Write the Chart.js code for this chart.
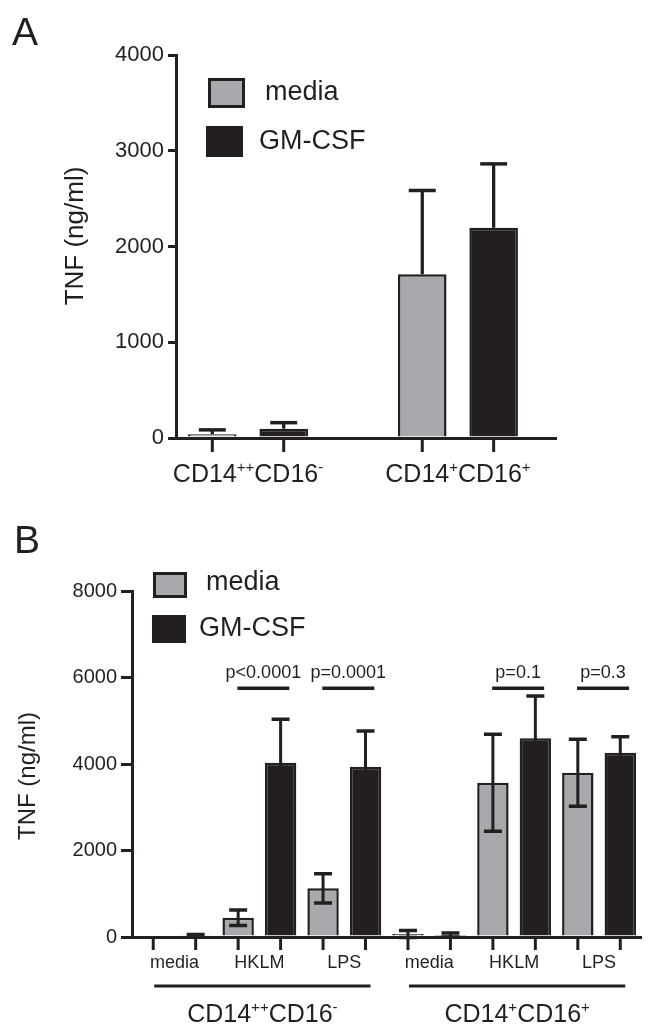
<!DOCTYPE html>
<html>
<head>
<meta charset="utf-8">
<script src="https://cdn.jsdelivr.net/npm/chart.js@4.4.0/dist/chart.umd.min.js"></script>
<style>
  html, body { margin: 0; padding: 0; background: #fff; }
  canvas { display: block; }
</style>
</head>
<body>
<canvas id="chartA" width="664" height="500"></canvas>
<canvas id="chartB" width="664" height="534"></canvas>
<script>
// ---- data ----
const seriesNames = ['media', 'GM-CSF'];
const cellTypes = ['CD14⁺⁺CD16⁻', 'CD14⁺CD16⁺'];

// panel A (mean, SD)
const mediaA = [40, 1710];
const mediaAErr = [45, 875];
const gmcsfA = [97, 2195];
const gmcsfAErr = [63, 668];
const yTicksA = [0, 1000, 2000, 3000, 4000];

// panel B
const stimuli = ['media', 'HKLM', 'LPS', 'media', 'HKLM', 'LPS'];
const stimulusCell = [0, 0, 0, 1, 1, 1];
const mediaB = [0, 446, 1125, 70, 3565, 3796];
const mediaBErr = [0, 180, 340, 80, 1120, 775];
const gmcsfB = [30, 4027, 3935, 45, 4597, 4258];
const gmcsfBErr = [30, 1010, 830, 45, 978, 370];
const pValues = ['', 'p<0.0001', 'p=0.0001', '', 'p=0.1', 'p=0.3'];
const yTicksB = [0, 2000, 4000, 6000, 8000];

const FONT = '"Liberation Sans", Arial, Helvetica, sans-serif';
const GRAY = '#a7a9ac';
const BLACK = '#231f20';
Chart.defaults.font.family = FONT;
Chart.defaults.color = BLACK;

// text with superscript + and -
function drawRich(ctx, text, cx, cy, size) {
  const sup = { '⁺': '+', '⁻': '-' };
  const runs = [];
  for (const ch of text) {
    const isSup = ch in sup;
    const c = isSup ? sup[ch] : ch;
    const last = runs[runs.length - 1];
    if (last && last.sup === isSup) last.t += c; else runs.push({ t: c, sup: isSup });
  }
  const fN = size + 'px ' + FONT, fS = Math.round(size * 0.6) + 'px ' + FONT;
  let w = 0;
  runs.forEach(r => { ctx.font = r.sup ? fS : fN; r.w = ctx.measureText(r.t).width; w += r.w; });
  let x = cx - w / 2;
  const base = cy + size * 0.36;
  ctx.textAlign = 'left';
  ctx.textBaseline = 'alphabetic';
  runs.forEach(r => {
    ctx.font = r.sup ? fS : fN;
    ctx.fillText(r.t, x, r.sup ? base - size * 0.42 : base);
    x += r.w;
  });
}

const decor = {
  id: 'decor',
  afterDatasetsDraw(chart, args, o) {
    const ctx = chart.ctx;
    const xs = chart.scales.x, ys = chart.scales.y;
    const bottom = chart.chartArea.bottom;
    ctx.save();
    ctx.strokeStyle = BLACK;
    ctx.fillStyle = BLACK;

    // error bars
    chart.data.datasets.forEach((ds, di) => {
      const meta = chart.getDatasetMeta(di);
      meta.data.forEach((bar, i) => {
        const d = ds.data[i];
        const v = typeof d === 'object' ? d.y : d;
        const e = ds.errors[i];
        if (!e) return;
        const top = ys.getPixelForValue(v + e);
        const low = o.bothWays ? ys.getPixelForValue(v - e) : bar.y;
        ctx.lineWidth = o.errWidth;
        ctx.beginPath();
        ctx.moveTo(bar.x, low);
        ctx.lineTo(bar.x, top);
        ctx.stroke();
        ctx.lineWidth = o.capWidth;
        ctx.beginPath();
        ctx.moveTo(bar.x - o.cap / 2, top);
        ctx.lineTo(bar.x + o.cap / 2, top);
        if (o.bothWays) {
          ctx.moveTo(bar.x - o.cap / 2, low);
          ctx.lineTo(bar.x + o.cap / 2, low);
        }
        ctx.stroke();
      });
    });

    // x tick marks under every bar
    ctx.lineWidth = 3;
    chart.data.datasets.forEach((ds, di) => {
      chart.getDatasetMeta(di).data.forEach(bar => {
        ctx.beginPath();
        ctx.moveTo(bar.x, bottom);
        ctx.lineTo(bar.x, bottom + o.tickLen);
        ctx.stroke();
      });
    });

    // cell type labels
    if (o.brackets) {
      const m0 = chart.getDatasetMeta(0).data, m1 = chart.getDatasetMeta(1).data;
      cellTypes.forEach((name, g) => {
        const idx = stimulusCell.map((c, i) => c === g ? i : -1).filter(i => i >= 0);
        const x1 = m0[idx[0]].x + 1;
        const x2 = m1[idx[idx.length - 1]].x + 5;
        ctx.lineWidth = 3;
        ctx.beginPath();
        ctx.moveTo(x1, o.bracketY);
        ctx.lineTo(x2, o.bracketY);
        ctx.stroke();
        drawRich(ctx, name, (x1 + x2) / 2, o.cellLabelY, o.cellLabelSize);
      });
    } else {
      cellTypes.forEach((name, i) => {
        drawRich(ctx, name, xs.getPixelForValue(i), o.cellLabelY, o.cellLabelSize);
      });
    }

    // p values
    if (o.pLevel) {
      const py = ys.getPixelForValue(o.pLevel);
      ctx.font = '18px ' + FONT;
      ctx.textAlign = 'center';
      ctx.textBaseline = 'middle';
      pValues.forEach((p, i) => {
        if (!p) return;
        const cx = xs.getPixelForValue(i) + 4;
        ctx.lineWidth = 3.5;
        ctx.beginPath();
        ctx.moveTo(cx - 26, py);
        ctx.lineTo(cx + 26, py);
        ctx.stroke();
        ctx.fillText(p, cx, py - 15);
      });
    }

    // legend
    const L = o.legend;
    chart.data.datasets.forEach((ds, di) => {
      const b = L.boxes[di];
      ctx.fillStyle = BLACK;
      ctx.fillRect(b[0], b[1], b[2], b[3]);
      if (ds.backgroundColor === GRAY) {
        ctx.fillStyle = GRAY;
        ctx.fillRect(b[0] + 3, b[1] + 3, b[2] - 6, b[3] - 6);
      }
      ctx.fillStyle = BLACK;
      ctx.font = L.size + 'px ' + FONT;
      ctx.textAlign = 'left';
      ctx.textBaseline = 'middle';
      ctx.fillText(ds.label, L.text[di][0], L.text[di][1]);
    });

    // panel letter
    ctx.font = o.letter.size + 'px ' + FONT;
    ctx.textAlign = 'left';
    ctx.textBaseline = 'alphabetic';
    ctx.fillText(o.letter.text, o.letter.x, o.letter.y);

    // y title
    ctx.save();
    ctx.translate(o.yTitle.x, o.yTitle.y);
    ctx.rotate(-Math.PI / 2);
    ctx.font = o.yTitle.size + 'px ' + FONT;
    ctx.textAlign = 'center';
    ctx.textBaseline = 'middle';
    ctx.fillText('TNF (ng/ml)', 0, 0);
    ctx.restore();

    ctx.restore();
  }
};

const yScale = (max, ticks, size, width, tickLen) => ({
  min: 0,
  max: max,
  afterBuildTicks: s => { s.ticks = ticks.map(v => ({ value: v })); },
  ticks: { color: BLACK, font: { size: size }, padding: 4, callback: v => String(v) },
  grid: { drawOnChartArea: false, tickLength: tickLen, color: BLACK, lineWidth: 3 },
  border: { color: BLACK, width: 3 },
  afterFit: s => { s.width = width; }
});

// ---- panel A ----
new Chart(document.getElementById('chartA'), {
  type: 'bar',
  data: {
    datasets: [
      { label: seriesNames[0], data: mediaA.map((v, i) => ({ x: i, y: v })), errors: mediaAErr,
        backgroundColor: GRAY, borderColor: BLACK, borderWidth: 2.5,
        categoryPercentage: 0.68, barPercentage: 0.68 },
      { label: seriesNames[1], data: gmcsfA.map((v, i) => ({ x: i, y: v })), errors: gmcsfAErr,
        backgroundColor: BLACK, borderColor: BLACK, borderWidth: 2.5,
        categoryPercentage: 0.68, barPercentage: 0.68 }
    ]
  },
  options: {
    responsive: false,
    animation: false,
    layout: { padding: { left: 0, top: 55, right: 108, bottom: 0 } },
    plugins: {
      legend: { display: false },
      tooltip: { enabled: false },
      decor: {
        bothWays: false, errWidth: 3.3, capWidth: 3.5, cap: 27, tickLen: 14,
        cellLabelY: 473, cellLabelSize: 25,
        legend: { size: 27, boxes: [[208, 78, 37, 30], [206, 126, 37, 31]], text: [[265, 93], [259, 142]] },
        letter: { text: 'A', x: 12, y: 45, size: 39 },
        yTitle: { x: 76, y: 236, size: 26 }
      }
    },
    scales: {
      x: {
        type: 'linear', offset: false, min: -0.343, max: 1.467,
        afterBuildTicks: s => { s.ticks = cellTypes.map((c, i) => ({ value: i })); },
        ticks: { display: false },
        grid: { offset: false, drawOnChartArea: false, drawTicks: false },
        border: { color: BLACK, width: 3 },
        afterFit: s => { s.height = 62; }
      },
      y: yScale(4000, yTicksA, 22, 176, 8)
    }
  },
  plugins: [decor]
});

// ---- panel B ----
new Chart(document.getElementById('chartB'), {
  type: 'bar',
  data: {
    labels: stimuli,
    datasets: [
      { label: seriesNames[0], data: mediaB, errors: mediaBErr,
        backgroundColor: GRAY, borderColor: BLACK, borderWidth: 2.5,
        categoryPercentage: 1, barPercentage: 0.74 },
      { label: seriesNames[1], data: gmcsfB, errors: gmcsfBErr,
        backgroundColor: BLACK, borderColor: BLACK, borderWidth: 2.5,
        categoryPercentage: 1, barPercentage: 0.74 }
    ]
  },
  options: {
    responsive: false,
    animation: false,
    layout: { padding: { left: 0, top: 91, right: 22.5, bottom: 0 } },
    plugins: {
      legend: { display: false },
      tooltip: { enabled: false },
      decor: {
        bothWays: true, errWidth: 3, capWidth: 3.5, cap: 18, tickLen: 13,
        brackets: true, bracketY: 486, cellLabelY: 513, cellLabelSize: 25,
        pLevel: 5750,
        legend: { size: 27, boxes: [[153, 72, 34, 26], [152, 115, 34, 28]], text: [[206, 83], [199, 129]] },
        letter: { text: 'B', x: 14, y: 53, size: 39 },
        yTitle: { x: 28, y: 276, size: 24 }
      }
    },
    scales: {
      x: {
        ticks: { color: BLACK, font: { size: 18 }, padding: 15 },
        grid: { drawOnChartArea: false, drawTicks: false },
        border: { color: BLACK, width: 3 },
        afterFit: s => { s.height = 97; }
      },
      y: yScale(8000, yTicksB, 20, 132, 11)
    }
  },
  plugins: [decor]
});
</script>
</body>
</html>
